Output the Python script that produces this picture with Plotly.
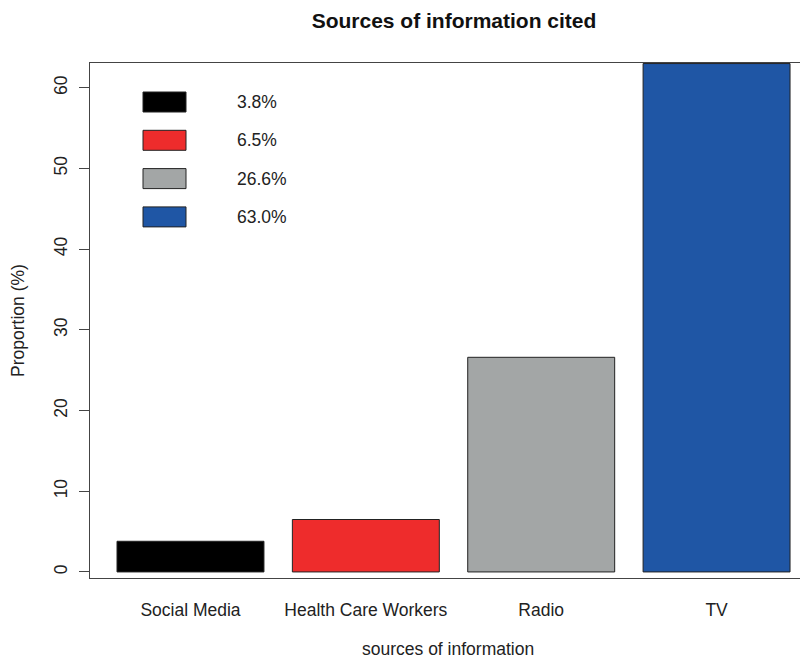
import plotly.graph_objects as go

categories = ["Social Media", "Health Care Workers", "Radio", "TV"]
proportions = [3.8, 6.5, 26.6, 63.0]
colors = ["#000000", "#EE2C2C", "#A3A6A6", "#1F56A5"]
y_ticks = [0, 10, 20, 30, 40, 50, 60]
x_title = "sources of information"

# page body has an 8px margin, so the figure is placed at (8, 8)
OFF = 8
W, H = 808 - OFF, 659 - OFF
L, T = 90 - OFF, 63 - OFF
R = W - (806 - OFF)
B = H - (578 - OFF)

fig = go.Figure()
fig.add_trace(go.Bar(
    x=categories, y=proportions,
    marker=dict(color=colors, line=dict(color="#222222", width=1)),
    showlegend=False,
))

# legend (R-style filled boxes) in paper coordinates
pw, ph = W - L - R, H - T - B
shapes, annots = [], []
for i, (v, c) in enumerate(zip(proportions, colors)):
    yc = 102 - OFF + i * 38.3
    x0 = (143 - OFF - L) / pw
    x1 = (186 - OFF - L) / pw
    y0 = 1 - (yc - 10 - T) / ph
    y1 = 1 - (yc + 10 - T) / ph
    shapes.append(dict(type="rect", xref="paper", yref="paper", x0=x0, x1=x1,
                       y0=y0, y1=y1, fillcolor=c,
                       line=dict(color="#222222", width=1)))
    annots.append(dict(xref="paper", yref="paper", x=(235 - OFF - L) / pw,
                       y=1 - (yc - T) / ph, text=f"{v:.1f}%", showarrow=False,
                       xanchor="left", yanchor="middle",
                       font=dict(size=17.5, color="#222222")))

# x-axis title, placed as in the reference
annots.append(dict(xref="paper", yref="paper", x=0.5, y=1 - (649 - OFF - T) / ph,
                   text=x_title, showarrow=False, xanchor="center",
                   yanchor="middle", borderpad=0,
                   font=dict(size=17.5, color="#222222")))

fig.update_layout(
    width=W, height=H,
    margin=dict(l=L, r=R, t=T, b=B),
    paper_bgcolor="white", plot_bgcolor="white",
    font=dict(family="Liberation Sans, Arial, sans-serif", size=17.5, color="#222222"),
    title=dict(text="<b>Sources of information cited</b>", x=(454 - OFF) / W,
               xanchor="center", y=1 - (21 - OFF) / H, yanchor="middle",
               font=dict(size=21, color="#111111")),
    bargap=0.162,
    shapes=shapes, annotations=annots,
    xaxis=dict(range=[-0.573, 3.51], showline=True, mirror=True, linecolor="#444444",
               linewidth=1, ticks="", showgrid=False, zeroline=False,
               ticklabelstandoff=16, automargin=False),
    yaxis=dict(range=[-0.75, 63.07], tickvals=y_ticks, showline=True, mirror=True,
               linecolor="#444444", linewidth=1, ticks="outside", ticklen=10,
               tickcolor="#444444", tickangle=-90, showgrid=False, zeroline=False,
               ticklabelstandoff=5,
               title=dict(text="Proportion (%)", standoff=25, font=dict(size=17.5))),
)

fig.write_html("out.html")
